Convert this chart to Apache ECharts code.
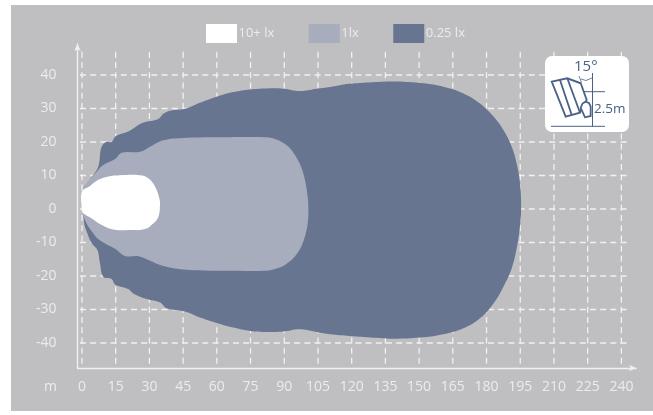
<!DOCTYPE html>
<html><head><meta charset="utf-8">
<style>html,body{margin:0;padding:0;background:#fff}#c{width:653px;height:415px}</style>
<script src="https://cdn.jsdelivr.net/npm/echarts@6/dist/echarts.min.js"></script>
</head><body><div id="c"></div>
<script>
const xTicks=[0,15,30,45,60,75,90,105,120,135,150,165,180,195,210,225,240];
const yTicks=[-40,-30,-20,-10,0,10,20,30,40];
const seriesNames=['10+ lx','1lx','0.25 lx'];
const lowBeam=[[0.6,5.7],[2.8,8.2],[6.5,11.6],[7.6,13.6],[8.5,18.1],[10.2,19.8],[13.2,20.1],[14.7,21.6],[16.9,22.3],[20.6,23.1],[23.6,24.4],[27.3,25.8],[34,26.9],[36.2,28.4],[39.2,29.3],[45.8,29.9],[52.5,31.7],[59.9,33.5],[67.3,34.9],[74.8,35.7],[82.2,36],[89.6,35.9],[97,35.2],[104.4,35.9],[110.4,36.4],[117.8,37.3],[125.2,37.7],[134.1,38],[143,38],[151.9,37.5],[160.8,36.5],[169.7,34.5],[177.1,31.5],[183.1,27.6],[187.5,23.6],[191.2,18.6],[193.4,13.6],[194.9,7.7],[195.4,0.2],[194.9,-4.8],[193.7,-10.7],[191.2,-17.7],[187.5,-23.2],[183.1,-28.2],[177.1,-32.6],[169.7,-35.6],[160.8,-37.4],[151.9,-38.3],[140,-38.7],[129.6,-38.4],[119.2,-37.9],[110.4,-37.4],[104.4,-36.7],[96.7,-35.9],[89.6,-36.6],[82.2,-36.7],[74.8,-36.4],[67.3,-35.4],[59.9,-34],[52.5,-32.4],[45.8,-30.6],[37.7,-29.6],[34.7,-27.9],[28.8,-26.9],[22.8,-25.2],[20.6,-23.9],[14.7,-22.5],[13.2,-20.9],[9.5,-20.2],[8,-16.2],[6.8,-12.2],[4.3,-10.2],[2.4,-7.3],[0.9,-3.8]];
const midBeam=[[0.6,5.7],[6.5,11.1],[9.5,13.1],[14.7,14.9],[17.7,16.8],[25.8,17.1],[30.3,18.6],[36.2,20.5],[45.1,21.2],[59.9,21.4],[75,21.5],[82.2,21.4],[85.5,21],[88.1,20.3],[91.5,18.8],[94,16.9],[96.3,14.3],[97.8,12],[99.2,8.7],[100.2,4.7],[100.7,0.7],[100.5,-3.8],[99.6,-7.2],[98.2,-10.2],[96.3,-12.7],[94,-14.7],[91.5,-16.1],[89,-17.2],[85.6,-18],[82,-18.4],[67.3,-18.4],[46.6,-18.1],[36.2,-17],[28.8,-15],[25.1,-14.1],[19.1,-14],[14.7,-11.9],[9.5,-10],[5.8,-8],[0.6,-1.8]];
const highBeam=[[0,5.2],[3.6,6.9],[7.3,8.7],[11.7,9.7],[16.9,10.1],[25.8,10.1],[29.5,9.2],[32.5,6.7],[34.4,3.2],[34.7,1.2],[34,-2.3],[31.7,-4.3],[28,-6],[22.8,-6.3],[13.9,-6.1],[8.8,-4.8],[4.3,-2.8],[0.6,-1.3],[0,-0.3]];

const GRID='#f1f1f2', TXT='#ececed', INK='#4a6285';
const FONT='"Open Sans", sans-serif';
const COLORS=['#ffffff','#a8adbd','#687590'];
const X_END=243.4, X_START=-0.9, Y_TOP=46.9, Y_BOTTOM=-47.46;

function polySeries(name,pts,color,z){
  return {type:'custom',name,coordinateSystem:'cartesian2d',data:[0],z,clip:false,silent:true,
    itemStyle:{color},
    renderItem:(p,api)=>({type:'polygon',shape:{points:pts.map(q=>api.coord(q)),smooth:0.4},style:{fill:color}}),
    encode:{x:[],y:[]}};
}
function gridSeries(){
  return {type:'custom',coordinateSystem:'cartesian2d',data:[0],z:1,clip:false,silent:true,
    renderItem:(p,api)=>{
      const st={stroke:GRID,lineWidth:1.3,lineDash:[6,4.2],fill:null};
      const ch=[];
      xTicks.forEach(v=>{const a=api.coord([v,Y_TOP]),b=api.coord([v,Y_BOTTOM]);
        ch.push({type:'line',shape:{x1:a[0],y1:a[1],x2:b[0],y2:b[1]},style:st});});
      yTicks.forEach(v=>{const a=api.coord([X_START,v]),b=api.coord([X_END,v]);
        ch.push({type:'line',shape:{x1:a[0],y1:a[1],x2:b[0],y2:b[1]},style:st});});
      return {type:'group',children:ch};
    },encode:{x:[],y:[]}};
}
const axisLine={show:true,onZero:false,symbol:['none','arrow'],symbolSize:[5,7],lineStyle:{color:GRID,width:1.4}};
const labelStyle={color:TXT,fontFamily:FONT,fontSize:14};
const chart=echarts.init(document.getElementById('c'),null,{renderer:'canvas'});
const ic=(o)=>Object.assign({z:51,silent:true},o);
chart.setOption({
  animation:false,
  backgroundColor:'#ffffff',
  grid:{left:77.5,top:44,width:558.5,height:324,containLabel:false},
  xAxis:{type:'value',min:-2,max:246.5,axisLine,axisTick:{show:false,customValues:xTicks},splitLine:{show:false},
    axisLabel:Object.assign({customValues:xTicks,margin:12,showMinLabel:true,showMaxLabel:true},labelStyle)},
  yAxis:{type:'value',min:-47.46,max:49.25,axisLine,axisTick:{show:false,customValues:yTicks},splitLine:{show:false},
    axisLabel:Object.assign({customValues:yTicks,margin:21},labelStyle)},
  legend:{left:206,top:24,itemGap:34.5,itemWidth:24,itemHeight:12,icon:'rect',padding:0,
    data:seriesNames.map((name,i)=>({name,itemStyle:{color:COLORS[i],borderColor:COLORS[i],borderWidth:7}})),
    textStyle:{color:TXT,fontFamily:FONT,fontSize:13}},
  graphic:[
    {type:'rect',z:-10,silent:true,shape:{x:11,y:5,width:642,height:406},style:{fill:'#bfbfc1'}},
    {type:'text',z:5,left:44,top:380,style:{text:'m',fill:TXT,font:'14px '+FONT}},
    ic({type:'rect',z:50,shape:{x:545,y:56,width:84,height:76,r:7},style:{fill:'#ffffff'}}),
    ic({type:'polygon',shape:{points:[[551.7,81.7],[567.3,78.3],[580.7,83.3],[586.7,100],[581,110],[580,112.7],[565.7,116.7]]},style:{fill:null,stroke:INK,lineWidth:1.8}}),
    ic({type:'line',shape:{x1:560,y1:80,x2:571.7,y2:115},style:{stroke:INK,lineWidth:1.8}}),
    ic({type:'line',shape:{x1:567.3,y1:78.3,x2:580,y2:112.7},style:{stroke:INK,lineWidth:1.8}}),
    ic({type:'polygon',z:52,shape:{points:[[580.7,108],[582.5,103.5],[585.5,101.7],[589,103],[590.7,106.7],[590.7,116],[585,117.3]]},style:{fill:'#fff',stroke:INK,lineWidth:1.8}}),
    ic({type:'line',shape:{x1:592.5,y1:73,x2:592.5,y2:126.5},style:{stroke:INK,lineWidth:1}}),
    ic({type:'line',shape:{x1:551,y1:126.3,x2:605,y2:126.3},style:{stroke:INK,lineWidth:1}}),
    ic({type:'line',shape:{x1:584,y1:91.7,x2:605,y2:91.7},style:{stroke:INK,lineWidth:1}}),
    ic({type:'polyline',shape:{points:[[581,79],[586,80.5],[592,78]]},style:{fill:null,stroke:INK,lineWidth:0.8}}),
    ic({type:'line',shape:{x1:579,y1:76,x2:581.5,y2:82.5},style:{stroke:INK,lineWidth:0.8}}),
    ic({type:'text',x:574,y:59,style:{text:'15°',fill:INK,font:'15px '+FONT}}),
    ic({type:'text',x:594,y:102,style:{text:'2.5m',fill:INK,font:'13.5px '+FONT}})
  ],
  series:[
    gridSeries(),
    polySeries(seriesNames[2],lowBeam,COLORS[2],3),
    polySeries(seriesNames[1],midBeam,COLORS[1],4),
    polySeries(seriesNames[0],highBeam,COLORS[0],5)
  ]
});
</script></body></html>
